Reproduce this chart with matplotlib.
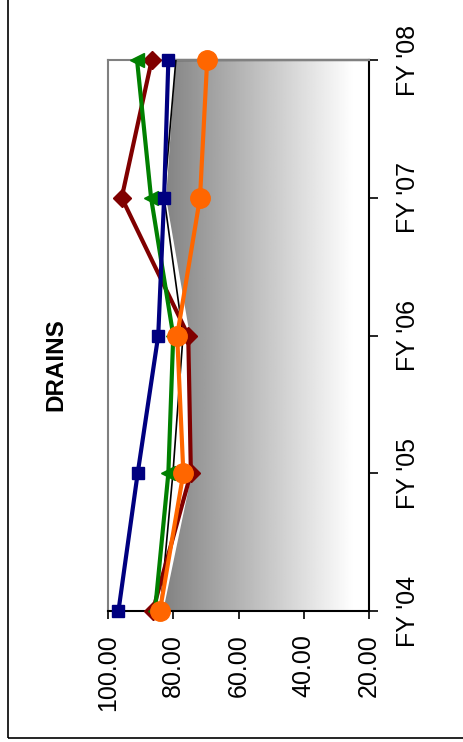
import numpy as np
import matplotlib
matplotlib.use("Agg")
import matplotlib.pyplot as plt
from matplotlib.patches import Polygon, Rectangle

plt.rcParams['font.family'] = ['Liberation Sans', 'DejaVu Sans']

# data
years = ["FY '04", "FY '05", "FY '06", "FY '07", "FY '08"]
navy_vals = [96.8, 90.9, 84.6, 82.8, 81.5]
green_vals = [85.6, 81.5, 80.0, 86.8, 91.1]
maroon_vals = [86.3, 74.6, 75.4, 95.8, 86.6]
orange_vals = [84.1, 76.9, 78.8, 71.8, 69.6]
black_vals = [84.0, 80.1, 77.0, 82.8, 79.2]
area_vals = [83.1, 74.3, 74.9, 82.2, 79.2]
value_ticks = [100, 80, 60, 40, 20]

W, H = 463, 742
fig = plt.figure(figsize=(W / 100, H / 100), dpi=100)
ax = fig.add_axes([108 / W, 131 / H, 261 / W, 551 / H])

pos = np.arange(len(years))

# gradient-filled area (value axis runs 100 -> 20 left to right)
xv = np.linspace(100, 20, 400)
g = np.clip(0.53 + 0.47 * (80.7 - xv) / 56, 0, 1)
grad = np.tile(g, (2, 1))
img = ax.imshow(grad, extent=[100, 20, 0, len(years) - 1], aspect='auto',
                cmap='gray', vmin=0, vmax=1, origin='lower', zorder=1,
                interpolation='bilinear')
verts = list(zip(area_vals, pos)) + [(20, pos[-1]), (20, pos[0])]
clip = Polygon(verts, closed=True, transform=ax.transData, facecolor='none', edgecolor='none')
ax.add_patch(clip)
img.set_clip_path(clip)
ax.plot([area_vals[-1], 20], [pos[-1], pos[-1]], color='black', lw=1.6, zorder=2, clip_on=False)

ax.plot(black_vals, pos, color='black', lw=1.2, zorder=3)
ax.plot(maroon_vals, pos, color='#800000', lw=3, marker='D', ms=9, zorder=4, clip_on=False)
ax.plot(green_vals, pos, color='#008000', lw=3, marker='<', ms=10, zorder=5, clip_on=False)
ax.plot(navy_vals, pos, color='#000080', lw=3, marker='s', ms=9, zorder=6, clip_on=False)
ax.plot(orange_vals, pos, color='#FF6600', lw=3, marker='o', ms=14, zorder=7, clip_on=False)

ax.set_xlim(100, 20)
ax.set_ylim(0, len(years) - 1)

ax.set_xticks(value_ticks)
ax.set_xticklabels(['%.2f' % v for v in value_ticks], rotation=90, fontsize=18)
ax.set_yticks(pos)
ax.set_yticklabels(years, rotation=90, va='center', fontsize=18)
ax.yaxis.tick_right()
ax.tick_params(axis='x', direction='out', length=6, width=1.2, pad=11)
ax.tick_params(axis='y', direction='out', length=6.5, width=1.2, pad=13)

for s in ['left', 'top']:
    ax.spines[s].set_color('#808080')
    ax.spines[s].set_linewidth(1.5)
for s in ['bottom', 'right']:
    ax.spines[s].set_color('black')
    ax.spines[s].set_linewidth(1.5)

fig.text(56 / W, 1 - 365 / H, 'DRAINS', rotation=90, fontsize=17.5,
         fontweight='bold', ha='center', va='center')

# outer chart border (cut off at top and right)
fig.patches.append(Rectangle((8 / W, 4 / H), 1.0, 1.0, transform=fig.transFigure,
                             fill=False, edgecolor='black', lw=1.2))

fig.savefig('out.png', dpi=100)
